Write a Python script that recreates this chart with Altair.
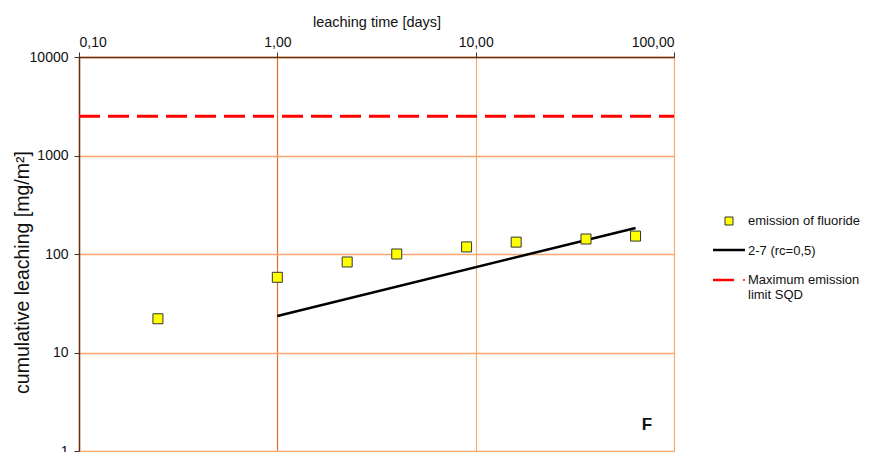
import altair as alt
import pandas as pd

# ---- data ----
time_days = [0.25, 1, 2.25, 4, 9, 16, 36, 64]
fluoride = [22, 58, 83, 100, 118, 132, 142, 152]
fit_x = [1, 64]
fit_y = [23.5, 184]
limit_x = [0.1, 100]
limit_value = 2500
x_ticks = [0.1, 1, 10, 100]
y_ticks = [1, 10, 100, 1000, 10000]
legend_labels = ["emission of fluoride", "2-7 (rc=0,5)", "Maximum emission\nlimit SQD"]
panel_label = "F"
x_title = "leaching time [days]"
y_title = "cumulative leaching [mg/m²]"

FONT = "Liberation Sans"

pts = pd.DataFrame({"t": time_days, "v": fluoride})
fit = pd.DataFrame({"t": fit_x, "v": fit_y})
lim = pd.DataFrame({"t": limit_x, "v": [limit_value] * len(limit_x)})

xs = alt.Scale(type="log", domain=[0.1, 100])
ys = alt.Scale(type="log", domain=[1, 10000])

x_axis = alt.Axis(
    orient="top", values=x_ticks, title=x_title,
    labelExpr="replace(format(datum.value, '.2f'), '.', ',')",
    grid=True,
    gridColor={"condition": {"test": "datum.value == 1", "value": "#e8691f"}, "value": "#f8a870"},
    gridWidth=1.2,
    domainColor="#6b2c08", domainWidth=1.5, tickColor="#333", tickSize=5,
    labelFont=FONT, labelFontSize=14, labelColor="#111", labelPadding=3,
    titleFont=FONT, titleFontSize=14.5, titleFontWeight="normal", titleColor="#111",
    titlePadding=6,
)
y_axis = alt.Axis(
    values=y_ticks, title=y_title, format="d",
    grid=True, gridColor="#f8a66e", gridWidth=1.5,
    domainColor="#6b2c08", domainWidth=1.5, tickColor="#333", tickSize=5,
    labelFont=FONT, labelFontSize=14, labelColor="#111", labelPadding=6,
    titleFont=FONT, titleFontSize=19.5, titleFontWeight="normal", titleColor="#111",
    titleX=-57, titleY=215, titleBaseline="middle", titleAlign="center", titleAngle=270,
)

X = alt.X("t:Q", scale=xs, axis=x_axis)
Y = alt.Y("v:Q", scale=ys, axis=y_axis)

limit_line = alt.Chart(lim).mark_line(
    color="#ff0000", strokeWidth=3, strokeDash=[21, 8]
).encode(x=X, y=Y)

fit_line = alt.Chart(fit).mark_line(color="#000000", strokeWidth=2.5).encode(x=X, y=Y)

points = alt.Chart(pts).mark_point(
    shape="square", filled=True, fill="#ffff00", stroke="#333333",
    strokeWidth=1, size=100, opacity=1
).encode(x=X, y=Y)

# ---- legend (drawn to the right of the plot) ----
leg1 = pd.DataFrame({"label": [legend_labels[0]]})
leg2 = pd.DataFrame({"label": [legend_labels[1]]})
leg3 = pd.DataFrame({"label": [legend_labels[2]]})

TXT = dict(align="left", baseline="middle", font=FONT, fontSize=13, color="#111")

leg_sq = alt.Chart(leg1).mark_point(
    shape="square", filled=True, fill="#ffff00", stroke="#333333",
    strokeWidth=1, size=64, opacity=1
).encode(x=alt.value(650), y=alt.value(164))
leg_sq_t = alt.Chart(leg1).mark_text(**TXT).encode(
    x=alt.value(669), y=alt.value(164), text="label:N")

leg_ln = alt.Chart(leg2).mark_rule(color="#000", strokeWidth=2.5).encode(
    x=alt.value(634), x2=alt.value(666), y=alt.value(193))
leg_ln_t = alt.Chart(leg2).mark_text(**TXT).encode(
    x=alt.value(669), y=alt.value(194), text="label:N")

leg_red = alt.Chart(leg3).mark_rule(color="#ff0000", strokeWidth=2.5).encode(
    x=alt.value(634), x2=alt.value(655), y=alt.value(223))
leg_dot = alt.Chart(leg3).mark_point(
    shape="circle", filled=True, color="#ff0000", size=4, opacity=1
).encode(x=alt.value(665), y=alt.value(223))
leg_red_t = alt.Chart(leg3).mark_text(lineBreak="\n", lineHeight=15, **TXT).encode(
    x=alt.value(669), y=alt.value(223), text="label:N")

flabel = alt.Chart(pd.DataFrame({"label": [panel_label]})).mark_text(
    align="center", baseline="middle", font=FONT, fontSize=17, fontWeight="bold", color="#111"
).encode(x=alt.value(568), y=alt.value(368), text="label:N")

chart = alt.layer(
    limit_line, fit_line, points,
    leg_sq, leg_sq_t, leg_ln, leg_ln_t, leg_red, leg_dot, leg_red_t, flabel
).properties(
    width=595, height=394,
    autosize=alt.AutoSizeParams(type="none"),
    padding={"left": 71, "top": 49, "right": 190, "bottom": 4},
).configure_view(
    stroke="#ff6a10", strokeWidth=2.5
).configure(background="white")

chart.save("out.html", embed_options={"renderer": "svg", "actions": False})
